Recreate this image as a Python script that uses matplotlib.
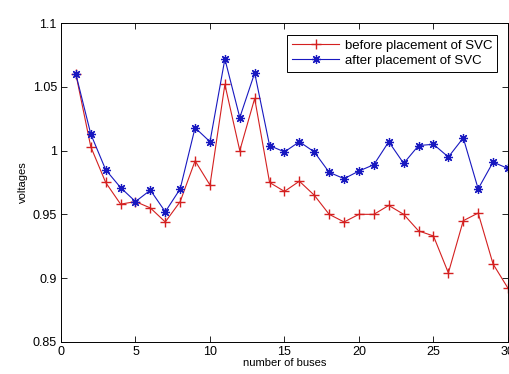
import numpy as np
import matplotlib.pyplot as plt

plt.rcParams['font.family'] = ['Liberation Sans', 'DejaVu Sans']

buses = np.arange(1, 31)
v_before = [1.060, 1.003, 0.975, 0.958, 0.960, 0.955, 0.944, 0.960, 0.992, 0.973,
            1.052, 1.000, 1.041, 0.975, 0.968, 0.976, 0.965, 0.950, 0.944, 0.950,
            0.950, 0.957, 0.950, 0.937, 0.933, 0.904, 0.945, 0.951, 0.911, 0.892]
v_after = [1.060, 1.013, 0.985, 0.971, 0.960, 0.969, 0.952, 0.970, 1.018, 1.007,
           1.072, 1.026, 1.061, 1.004, 0.999, 1.007, 0.999, 0.983, 0.978, 0.984,
           0.989, 1.007, 0.990, 1.004, 1.005, 0.995, 1.010, 0.970, 0.991, 0.986]

fig = plt.figure(figsize=(5.1, 3.74), dpi=100)
ax = fig.add_axes([0.1196, 0.0864, 0.8764, 0.8513])

# asterisk marker like the matlab '*'
asterisk = (8, 2, 0)
ax.plot(buses, v_before, color='#d42020', marker='+', markersize=7, linewidth=0.8,
        markeredgewidth=1.0, label='before placement of SVC')
ax.plot(buses, v_after, color='#1818c0', marker=asterisk, markersize=6.5, linewidth=0.8,
        markeredgewidth=0.9, label='after placement of SVC')

ax.set_xlim(0, 30)
ax.set_ylim(0.85, 1.1)
ax.set_xticks([0, 5, 10, 15, 20, 25, 30])
ax.set_yticks([0.85, 0.9, 0.95, 1.0, 1.05, 1.1])
ax.set_yticklabels(['0.85', '0.9', '0.95', '1', '1.05', '1.1'])
ax.tick_params(direction='in', top=True, right=True, labelsize=9, length=4, width=0.6,
               pad=3)
for s in ax.spines.values():
    s.set_linewidth(0.7)

ax.set_xlabel('number of buses', fontsize=8, labelpad=0)
ax.set_ylabel('voltages', fontsize=8, labelpad=3)

leg = ax.legend(loc='upper right', fontsize=9.5, fancybox=False, framealpha=1,
                edgecolor='black', bbox_to_anchor=(0.99, 0.985), handlelength=3.6,
                handletextpad=0.4, borderpad=0.35, labelspacing=0.25)
leg.get_frame().set_linewidth(0.7)

fig.savefig('out.png', dpi=100)
